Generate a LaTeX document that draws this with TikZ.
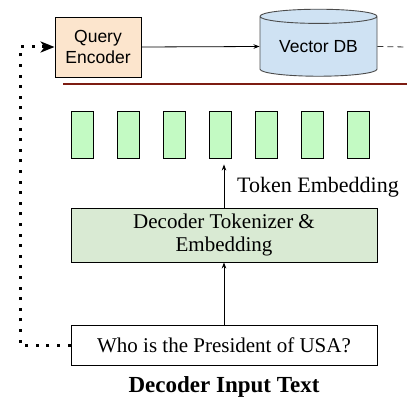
\documentclass[tikz,border=0pt]{standalone}
\usepackage{fontspec}
\setmainfont{Liberation Serif}
\setsansfont{Liberation Sans}
\usetikzlibrary{arrows.meta,shapes.geometric}

\definecolor{encfill}{RGB}{252,229,205}
\definecolor{dbfill}{RGB}{207,226,243}
\definecolor{tokfill}{RGB}{195,250,195}
\definecolor{decfill}{RGB}{217,234,211}
\definecolor{rulered}{RGB}{125,28,18}

\tikzset{
  box/.style={draw, line width=0.9pt, inner sep=0pt, align=center},
  tokbox/.style={box, fill=tokfill, minimum width=22pt, minimum height=47pt},
  sanstext/.style={font=\sffamily\fontsize{17.5}{21}\selectfont},
  seriftext/.style={font=\fontsize{21}{23}\selectfont},
  thinarrow/.style={line width=0.8pt, -{Stealth[length=6pt,width=4.5pt]}},
  dotline/.style={line width=3pt, dash pattern=on 3pt off 7.6pt, -{Stealth[length=14pt,width=11pt,inset=4pt]}}
}

\begin{document}
\begin{tikzpicture}[x=1pt,y=-1pt]
    \useasboundingbox (0,0) rectangle (407,412);
    % retrieval part
    \node[box, fill=encfill, minimum width=86pt, minimum height=60pt, sanstext] (enc) at (98,47) {Query\\Encoder};
    \node[cylinder, shape border rotate=90, draw=black!70, line width=0.9pt, fill=dbfill, aspect=0.18,
      minimum width=117pt, minimum height=67pt, inner sep=0pt, sanstext] (vdb) at (318.5,46.5) {Vector DB};
    \coordinate (dbout) at (407,47);
    \coordinate (ruleL) at (63,84);
    \coordinate (ruleR) at (407,84);
    \draw[thinarrow] (enc.east) -- (vdb.west);
    \draw[black!80, line width=0.8pt, dash pattern=on 6pt off 4pt] (vdb.east) -- (dbout);
    \draw[rulered, line width=1.4pt] (ruleL) -- (ruleR);
    % token embeddings
    \foreach \i in {1,...,7}
      \node[tokbox] (tok\i) at (36+46*\i,134.5) {};
    % decoder
    \node[box, fill=decfill, minimum width=306pt, minimum height=54pt, seriftext] (dec) at (224,235) {Decoder Tokenizer \&\\Embedding};
    \node[box, minimum width=306pt, minimum height=40pt, seriftext] (qry) at (224,345) {Who is the President of USA?};
    \node[font=\fontsize{22}{24}\selectfont, anchor=west, inner sep=0pt] (toklbl) at (237,187) {Token Embedding};
    \node[font=\bfseries\fontsize{23}{25}\selectfont] (inlbl) at (224,387) {Decoder Input Text};
    \draw[thinarrow, shorten >=6pt] (dec.north) -- (dec.north |- tok4.south);
    \draw[thinarrow] (qry.north) -- (dec.south);
    % query goes back to the encoder
    \coordinate (bend) at (20,0);
    \draw[dotline] (qry.west) -- (qry.west -| bend) |- (enc.west);
\end{tikzpicture}
\end{document}
